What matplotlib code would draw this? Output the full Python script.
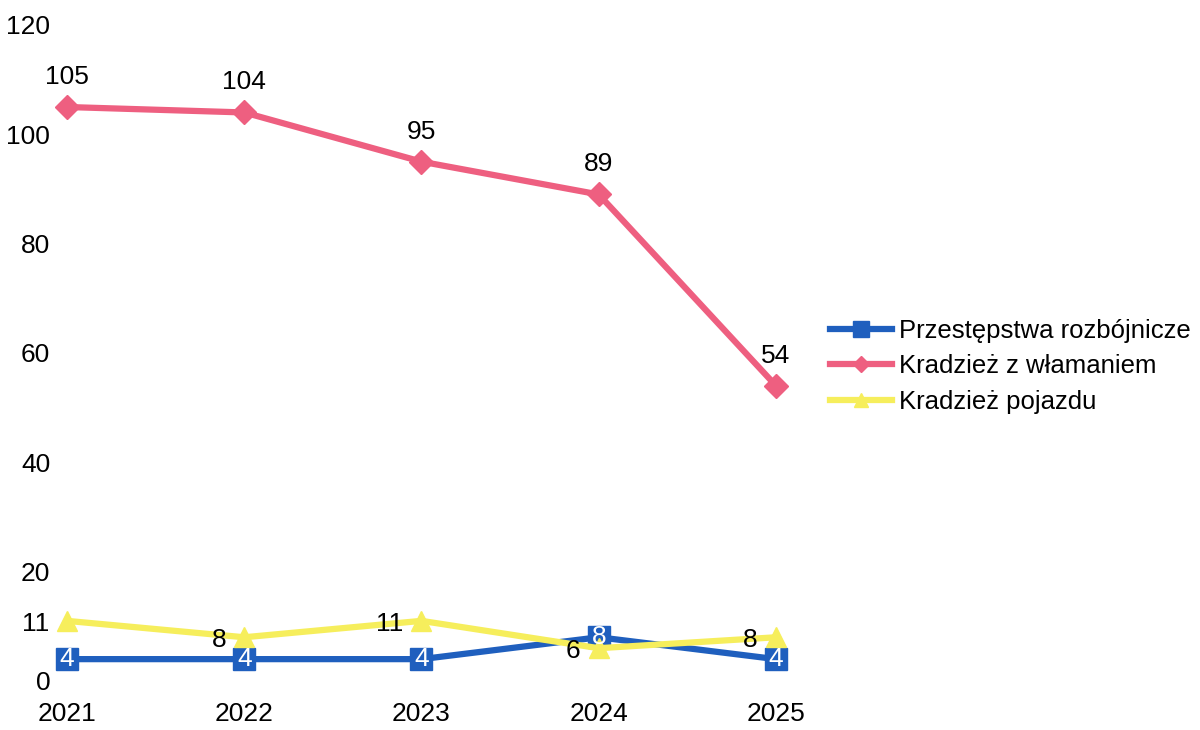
import matplotlib.pyplot as plt

plt.rcParams['font.family'] = ['Liberation Sans', 'DejaVu Sans']

years = ['2021', '2022', '2023', '2024', '2025']
rozboj = [4, 4, 4, 8, 4]
wlamanie = [105, 104, 95, 89, 54]
pojazd = [11, 8, 11, 6, 8]

blue = '#1f5fbe'
pink = '#ee5f80'
yellow = '#f6ee5c'

fig = plt.figure(figsize=(12, 7.3), dpi=100)
ax = fig.add_axes([67 / 1200, 49 / 730, 709 / 1200, 656 / 730])
x = range(len(years))

ax.plot(x, rozboj, color=blue, lw=4.5, marker='s', ms=16, label='Przestępstwa rozbójnicze', zorder=3)
ax.plot(x, wlamanie, color=pink, lw=4.5, marker='D', ms=12, label='Kradzież z włamaniem', zorder=3)
ax.plot(x, pojazd, color=yellow, lw=4.5, marker='^', ms=14, label='Kradzież pojazdu', zorder=4)

# etykiety danych
for i, v in enumerate(wlamanie):
    ax.annotate(str(v), (i, v), xytext=(0, 13), textcoords='offset points',
                ha='center', va='bottom', fontsize=19)
for i, v in enumerate(rozboj):
    ax.annotate(str(v), (i, v), ha='center', va='center', fontsize=19,
                color='white', zorder=5)
for i, v in enumerate(pojazd):
    ax.annotate(str(v), (i, v), xytext=(-13, -2), textcoords='offset points',
                ha='right', va='center', fontsize=19, zorder=5)

ax.set_xlim(0, 4)
ax.set_ylim(0, 120)
ax.set_yticks(range(0, 121, 20))
ax.set_xticks(list(x))
ax.set_xticklabels(years)
ax.tick_params(length=0, labelsize=19)
ax.tick_params(axis='y', pad=12)
ax.tick_params(axis='x', pad=15)
for s in ax.spines.values():
    s.set_visible(False)
for line in ax.lines:
    line.set_clip_on(False)

ax.legend(loc='center left', bbox_to_anchor=(1.076, 0.48), frameon=False,
          fontsize=18.5, handlelength=2.4, handletextpad=0.3, labelspacing=0.45,
          markerscale=0.7, borderaxespad=0, borderpad=0)

fig.savefig('out.png')
